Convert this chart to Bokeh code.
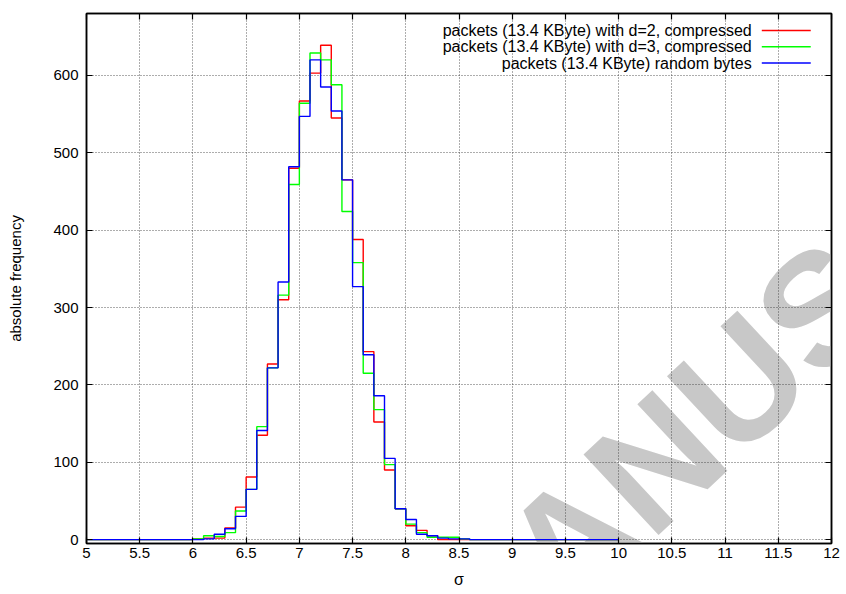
from bokeh.plotting import figure
from bokeh.models import Range1d, FixedTicker, LinearAxis, Label
from bokeh.embed import file_html
from bokeh.resources import INLINE

# Histogram of sigma, bins of width 0.1 starting at 5.0 (last bin ends at 10.0)
bin_start = 5.0
bin_width = 0.1

# absolute frequencies per bin
counts_d2 = [0, 0, 0, 0, 0, 0, 0, 0, 0, 0,
             1, 2, 2, 15, 42, 81, 135, 227, 310, 480,
             567, 603, 639, 545, 465, 388, 243, 152, 90, 40,
             18, 12, 5, 0, 0, 0, 0, 0, 0, 0,
             0, 0, 0, 0, 0, 0, 0, 0, 0, 0]
counts_d3 = [0, 0, 0, 0, 0, 0, 0, 0, 0, 0,
             1, 5, 4, 9, 37, 65, 146, 222, 316, 459,
             564, 629, 620, 588, 424, 358, 215, 168, 97, 40,
             20, 9, 3, 3, 3, 1, 0, 0, 0, 0,
             0, 0, 0, 0, 0, 0, 0, 0, 0, 0]
counts_random = [0, 0, 0, 0, 0, 0, 0, 0, 0, 0,
                 0, 1, 7, 14, 30, 65, 141, 222, 333, 482,
                 547, 620, 585, 554, 465, 327, 239, 186, 105, 40,
                 26, 7, 5, 2, 1, 1, 0, 0, 0, 0,
                 0, 0, 0, 0, 0, 0, 0, 0, 0, 0]

series_labels = ["packets (13.4 KByte) with d=2, compressed",
                 "packets (13.4 KByte) with d=3, compressed",
                 "packets (13.4 KByte) random bytes"]
series_colors = ["#ff0000", "#00ff00", "#0000ff"]

x_ticks = [5, 5.5, 6, 6.5, 7, 7.5, 8, 8.5, 9, 9.5, 10, 10.5, 11, 11.5, 12]
x_tick_labels = ["5", "5.5", "6", "6.5", "7", "7.5", "8", "8.5", "9", "9.5",
                 "10", "10.5", "11", "11.5", "12"]
y_ticks = [0, 100, 200, 300, 400, 500, 600]
y_tick_labels = ["0", "100", "200", "300", "400", "500", "600"]

FONT = "Liberation Sans"

p = figure(width=846, height=594,
           x_range=Range1d(5, 12), y_range=Range1d(-5, 680),
           output_backend="svg", toolbar_location=None,
           min_border_left=86, min_border_right=15,
           min_border_top=13, min_border_bottom=51,
           x_axis_label="σ", y_axis_label="absolute frequency")

p.background_fill_color = "white"
p.border_fill_color = "white"
p.outline_line_color = "black"
p.outline_line_width = 1.5

# grey diagonal watermark, painted beneath grid, axes and curves
p.add_layout(Label(x=11.9, y=300, text="MANUSCRIPT", angle=43, angle_units="deg",
                   text_align="center", text_baseline="middle",
                   text_font=FONT, text_font_style="bold", text_font_size="160px",
                   text_color="#c8c8c8", level="guide"))

# dotted grid
for g in (p.xgrid, p.ygrid):
    g.grid_line_color = "#333333"
    g.grid_line_dash = "1 2"
    g.grid_line_width = 1
    g.grid_line_alpha = 0.8
    g.level = "annotation"
p.xgrid.ticker = FixedTicker(ticks=x_ticks)
p.ygrid.ticker = FixedTicker(ticks=y_ticks)


def style_axis(ax, ticks, labels, show_labels):
    ax.ticker = FixedTicker(ticks=ticks)
    ax.major_label_overrides = {t: (l if show_labels else "") for t, l in zip(ticks, labels)}
    ax.major_tick_in = 6
    ax.major_tick_out = 0
    ax.major_tick_line_color = "black"
    ax.major_tick_line_width = 1.2
    ax.minor_tick_line_color = None
    ax.axis_line_color = "black"
    ax.axis_line_width = 1.5
    ax.major_label_text_font = FONT
    ax.major_label_text_font_size = "15px"
    ax.major_label_text_color = "black"
    ax.axis_label_text_font = FONT
    ax.axis_label_text_font_style = "normal"
    ax.axis_label_text_font_size = "15px"
    ax.axis_label_text_color = "black"
    ax.level = "overlay"


style_axis(p.xaxis[0], x_ticks, x_tick_labels, True)
p.xaxis[0].major_label_standoff = 4
p.xaxis[0].axis_label_standoff = 10
p.xaxis[0].axis_label_text_font_size = "16px"

style_axis(p.yaxis[0], y_ticks, y_tick_labels, True)
p.yaxis[0].major_label_standoff = 8
p.yaxis[0].axis_label_standoff = 26

# mirrored ticks on top and right
top_axis = LinearAxis()
style_axis(top_axis, x_ticks, x_tick_labels, False)
top_axis.major_label_standoff = 0
p.add_layout(top_axis, "above")
right_axis = LinearAxis()
style_axis(right_axis, y_ticks, y_tick_labels, False)
right_axis.major_label_standoff = 0
p.add_layout(right_axis, "right")

# step histograms
edges = [round(bin_start + i * bin_width, 1) for i in range(len(counts_d2) + 1)]
for counts, color in zip([counts_d2, counts_d3, counts_random], series_colors):
    p.step(edges, counts + [counts[-1]], mode="after", line_color=color,
           line_width=1.4, level="overlay")

# key in the upper right: right-aligned text followed by a line sample
key_text_x = 11.25
key_line_x0, key_line_x1 = 11.345, 11.805
key_rows_y = [658, 637, 616]
for label, color, ky in zip(series_labels, series_colors, key_rows_y):
    p.add_layout(Label(x=key_text_x, y=ky, text=label, text_align="right",
                       text_baseline="middle", text_font=FONT, text_font_size="16px",
                       text_color="black"))
    p.line([key_line_x0, key_line_x1], [ky, ky], line_color=color, line_width=1.4)

open("out.html", "w").write(file_html(p, INLINE))
